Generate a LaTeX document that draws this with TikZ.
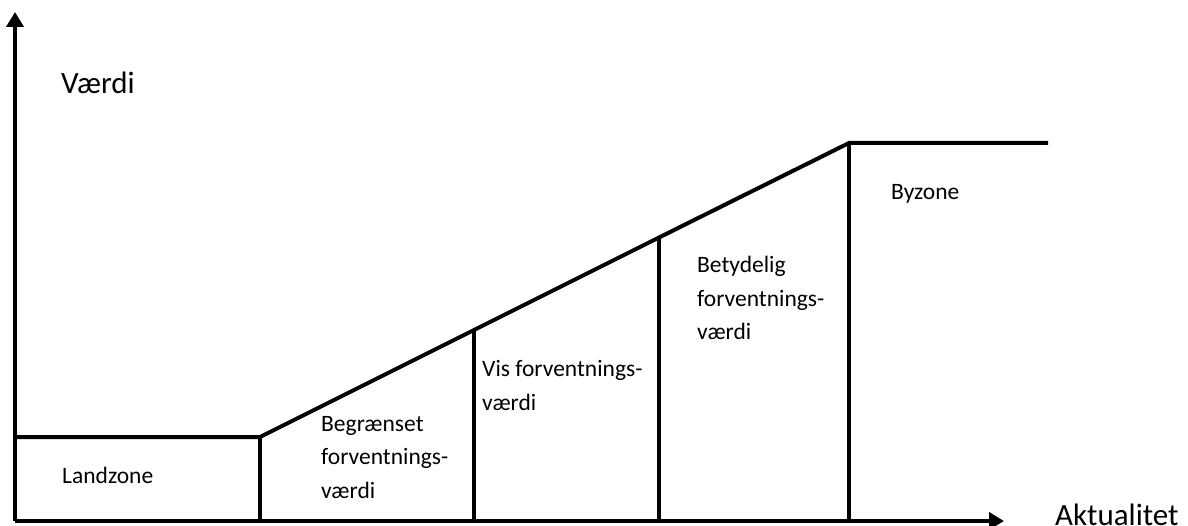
\documentclass[tikz,border=0pt]{standalone}
\usepackage{fontspec}
\setmainfont{Carlito}
\usetikzlibrary{arrows.meta}
\begin{document}
\begin{tikzpicture}[x=1pt,y=-1pt,
  thick line/.style={line width=4pt},
  axis/.style={line width=3.8pt,-{Triangle[width=17pt,length=15pt]}},
  lbl/.style={anchor=base west,inner sep=0pt,font=\fontsize{23.5}{33.5}\selectfont,align=left},
  big/.style={anchor=base west,inner sep=0pt,font=\fontsize{31}{37}\selectfont}]
\useasboundingbox (0,0) rectangle (1188,526);
\coordinate (O) at (15,521);
\coordinate (ytip) at (15,12);
\coordinate (xtip) at (1004,521);
\coordinate (L0) at (15,437);
\coordinate (L1) at (260,437);
\coordinate (S1) at (474,330);
\coordinate (S2) at (659,237.5);
\coordinate (S3) at (849,143);
\coordinate (E) at (1048,143);
\draw[axis] (O) -- (ytip);
\draw[axis] (O) -- (xtip);
\draw[thick line] (L0) -- (L1) -- (S1) -- (S2) -- (S3) -- (E);
\draw[thick line] (L1) -- (L1 |- O);
\draw[thick line] (S1) -- (S1 |- O);
\draw[thick line] (S2) -- (S2 |- O);
\draw[thick line] (S3) -- (S3 |- O);
\node[big] (vaerdi) at (61,94) {Værdi};
\node[big] (akt) at (1055,525) {Aktualitet};
\node[lbl] (land) at (62,483) {Landzone};
\node[lbl] (beg) at (321,498) {Begrænset\\forventnings-\\værdi};
\node[lbl] (vis) at (482,410) {Vis forventnings-\\værdi};
\node[lbl] (bet) at (697,340) {Betydelig\\forventnings-\\værdi};
\node[lbl] (by) at (891,200) {Byzone};
\end{tikzpicture}
\end{document}
